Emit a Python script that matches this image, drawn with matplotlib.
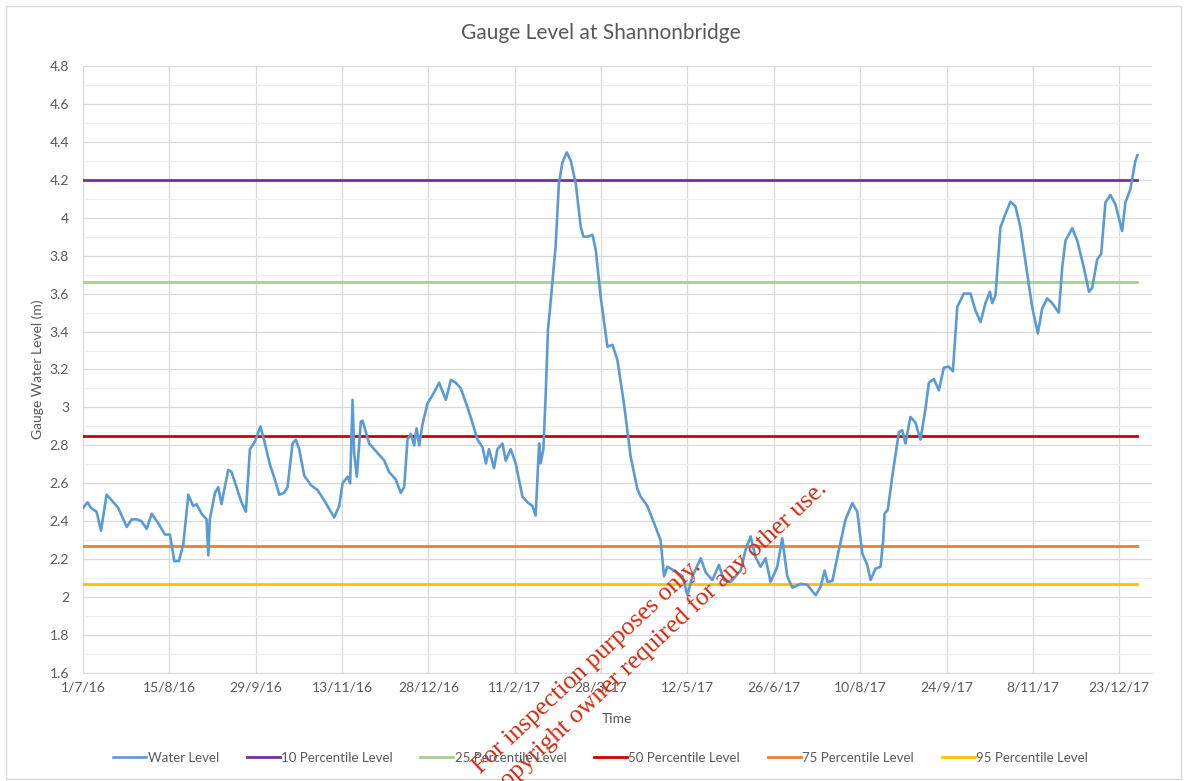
import numpy as np
import matplotlib
matplotlib.use("Agg")
import matplotlib.pyplot as plt
from matplotlib.patches import Rectangle
from matplotlib.ticker import MultipleLocator, FuncFormatter

plt.rcParams['font.family'] = ['Lato', 'DejaVu Sans']

# days since 1/7/16 and gauge water level (m)
days = [0, 2.4, 4.2, 7.1, 9.4, 12.3, 15, 18.4, 22.8, 25.4, 28, 30.5, 33.2, 35.8,
        39.2, 42.7, 45.3, 47.6, 50, 52.3, 54.9, 57.4, 59.2, 61.8, 64.4, 65.3,
        66.1, 68.8, 70.5, 72.2, 73.5, 75.7, 77.4, 82.6, 84.9, 87, 89.6, 92.5,
        94.8, 97.4, 100, 102.3, 104.9, 106.6, 109.2, 110.9, 112.7, 115.3, 118.8,
        122.2, 125.7, 130.9, 133.5, 135.3, 137.9, 139.2, 140.5, 141.3, 142.7,
        144.8, 145.7, 149.1, 153.5, 157, 159.5, 163, 165.6, 167.4, 169.1, 170.8,
        172.6, 173.8, 175.2, 176.9, 179.5, 183, 185.6, 189.1, 191.7, 194.3,
        196.9, 200.4, 202, 205.6, 208.2, 210, 211.6, 214.2, 216, 218.6, 220.3,
        222.9, 225.5, 229, 231.6, 234.2, 235.9, 237.7, 238.5, 239.9, 241.1,
        242.3, 243.2, 246.3, 248, 249.8, 252.1, 254.2, 256.8, 259.4, 260.8,
        262.8, 265.5, 267.2, 269.8, 273.3, 275.9, 278.5, 281.9, 285.4, 288.9,
        290.6, 294.1, 297.6, 301, 302.8, 304.5, 308, 312.4, 315, 317.6, 321.9,
        324.5, 328, 331.4, 334, 337.5, 342.7, 345.3, 347.9, 350.5, 353.1, 355.7,
        358.3, 361.8, 364.4, 367, 369.6, 374, 377.4, 381.8, 384.4, 386.5, 388,
        390.5, 393.9, 397.4, 400.9, 403.5, 406.1, 408.7, 410.4, 413, 415.6, 417,
        417.7, 419.4, 421.7, 425.2, 426.9, 428.6, 431.2, 433.8, 436.4, 439,
        440.8, 443.4, 446, 448.6, 451.2, 453.3, 455.6, 459, 462.5, 465.1, 467.7,
        470.3, 472.6, 473.8, 475.5, 478.1, 480.7, 483.3, 485.9, 488.5, 492,
        494.6, 497.6, 499.8, 502.4, 505, 508.5, 510.3, 512, 515.5, 518.1, 521.5,
        524.2, 525.9, 528.5, 530.6, 532.8, 535.4, 538, 541.5, 543.2, 545.8,
        548.4, 549.5]
water_level = [2.47, 2.50, 2.47, 2.45, 2.35, 2.54, 2.51, 2.47, 2.37, 2.41, 2.41,
               2.40, 2.36, 2.44, 2.39, 2.33, 2.33, 2.19, 2.19, 2.28, 2.54, 2.48,
               2.49, 2.44, 2.41, 2.22, 2.41, 2.55, 2.58, 2.49, 2.56, 2.67, 2.66,
               2.50, 2.45, 2.78, 2.82, 2.90, 2.81, 2.70, 2.62, 2.54, 2.55, 2.58,
               2.81, 2.83, 2.78, 2.64, 2.59, 2.565, 2.51, 2.42, 2.48, 2.60, 2.635,
               2.60, 3.04, 2.76, 2.635, 2.925, 2.93, 2.81, 2.76, 2.72, 2.66, 2.62,
               2.55, 2.58, 2.83, 2.86, 2.80, 2.89, 2.80, 2.91, 3.02, 3.08, 3.13,
               3.04, 3.145, 3.13, 3.10, 3.00, 2.95, 2.83, 2.79, 2.705, 2.78, 2.68,
               2.78, 2.81, 2.72, 2.78, 2.705, 2.53, 2.50, 2.48, 2.43, 2.81, 2.705,
               2.78, 3.06, 3.41, 3.50, 3.85, 4.18, 4.29, 4.345, 4.30, 4.18, 3.95,
               3.90, 3.90, 3.91, 3.83, 3.58, 3.32, 3.33, 3.25, 3.02, 2.74, 2.57,
               2.53, 2.48, 2.39, 2.30, 2.11, 2.16, 2.14, 2.11, 2.01, 2.11, 2.205,
               2.13, 2.09, 2.17, 2.09, 2.08, 2.14, 2.25, 2.32, 2.21, 2.16, 2.205,
               2.08, 2.16, 2.31, 2.11, 2.05, 2.07, 2.065, 2.01, 2.055, 2.14, 2.08,
               2.085, 2.25, 2.41, 2.495, 2.45, 2.23, 2.17, 2.09, 2.15, 2.16, 2.30,
               2.44, 2.46, 2.635, 2.87, 2.88, 2.81, 2.95, 2.92, 2.83, 2.99, 3.13,
               3.15, 3.09, 3.21, 3.215, 3.19, 3.53, 3.60, 3.60, 3.51, 3.45, 3.55,
               3.61, 3.55, 3.59, 3.95, 4.02, 4.085, 4.06, 3.95, 3.71, 3.53, 3.39,
               3.52, 3.575, 3.55, 3.50, 3.74, 3.88, 3.945, 3.88, 3.74, 3.61, 3.63,
               3.78, 3.81, 4.08, 4.12, 4.07, 3.93, 4.08, 4.15, 4.30, 4.33]

percentile_names = ['10 Percentile Level', '25 Percentile Level', '50 Percentile Level',
                    '75 Percentile Level', '95 Percentile Level']
percentile_levels = [4.2, 3.66, 2.85, 2.27, 2.07]
percentile_colors = ['#7030A0', '#A9D18E', '#D00000', '#ED7D31', '#FFC000']

tick_days = [0, 45, 90, 135, 180, 225, 270, 315, 360, 405, 450, 495, 540]
tick_labels = ['1/7/16', '15/8/16', '29/9/16', '13/11/16', '28/12/16', '11/2/17',
               '28/3/17', '12/5/17', '26/6/17', '10/8/17', '24/9/17', '8/11/17',
               '23/12/17']

grey = '#595959'
fig = plt.figure(figsize=(11.87, 7.81), dpi=100)
ax = fig.add_axes([0.0699, 0.1383, 0.9005, 0.7772])

ax.plot(days, water_level, color='#5B9BD5', lw=1.9, label='Water Level', zorder=3)
for name, lev, col in zip(percentile_names, percentile_levels, percentile_colors):
    ax.plot([days[0], days[-1]], [lev, lev], color=col, lw=2.0, label=name, zorder=2)

ax.set_xlim(0, 557)
ax.set_ylim(1.6, 4.8)
ax.set_xticks(tick_days)
ax.set_xticklabels(tick_labels)
ax.yaxis.set_major_locator(MultipleLocator(0.2))
ax.yaxis.set_minor_locator(MultipleLocator(0.1))
ax.yaxis.set_major_formatter(FuncFormatter(lambda v, p: '%g' % round(v, 1)))

ax.grid(axis='y', which='major', color='#D9D9D9', lw=0.9, zorder=0)
ax.grid(axis='y', which='minor', color='#EDEDED', lw=0.8, zorder=0)
ax.grid(axis='x', which='major', color='#D9D9D9', lw=0.9, zorder=0)
ax.set_axisbelow(True)
for s in ['top', 'right', 'left']:
    ax.spines[s].set_visible(False)
ax.spines['bottom'].set_color('#D9D9D9')
ax.tick_params(which='both', length=0, labelsize=10, labelcolor=grey)
ax.tick_params(axis='y', pad=10)
ax.tick_params(axis='x', pad=6)

fig.text(0.506, 1 - 33 / 781, 'Gauge Level at Shannonbridge', fontsize=15,
         color=grey, ha='center', va='center')
ax.set_ylabel('Gauge Water Level (m)', fontsize=10, color=grey, labelpad=4)
ax.set_xlabel('Time', fontsize=10, color=grey, labelpad=14)

fig.legend(loc='center', bbox_to_anchor=(0.506, 1 - 758 / 781), ncol=6, frameon=False,
           fontsize=9.5, labelcolor=grey, handlelength=2.5, handletextpad=0.1,
           columnspacing=2.1)

# chart border
fig.patches.append(Rectangle((0.005, 0.002), 0.99, 0.99, transform=fig.transFigure,
                             fill=False, edgecolor='#D9D9D9', lw=1))

# watermark
wm = dict(color='#D22B10', fontsize=18.5, rotation=43, rotation_mode='anchor',
          ha='right', va='baseline', family=['Liberation Serif'])
fig.text(702 / 1187, 1 - 568 / 781, 'For inspection purposes only.', **wm)
fig.text(828 / 1187, 1 - 490 / 781,
         'Consent of copyright owner required for any other use.', **wm)

fig.savefig('out.png', dpi=100)
